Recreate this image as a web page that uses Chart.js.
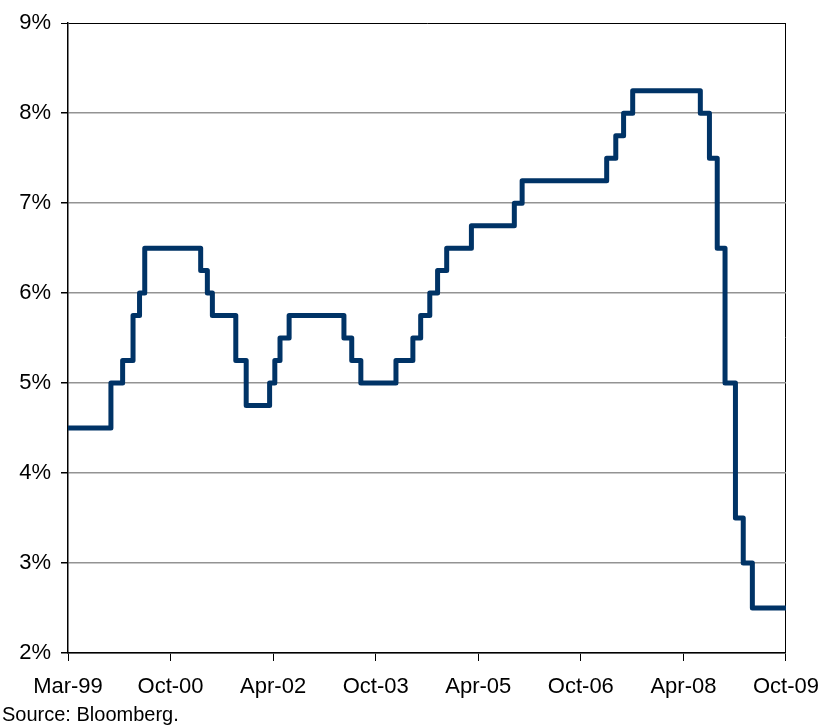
<!DOCTYPE html>
<html>
<head>
<meta charset="utf-8">
<script src="https://cdn.jsdelivr.net/npm/chart.js@4.4.1/dist/chart.umd.min.js"></script>
<style>
  body { margin: 0; background: #fff; }
  #wrap { position: relative; width: 832px; height: 725px; }
  #source {
    position: absolute; left: 2px; top: 704px;
    font: 20px "Liberation Sans", Arial, sans-serif; line-height: 20px; color: #000;
  }
</style>
</head>
<body>
<div id="wrap">
  <canvas id="rateChart" width="832" height="725"></canvas>
  <div id="source">Source: Bloomberg.</div>
</div>
<script>
// Policy rate: date of each change and the new rate (%)
const changeDates = [
  '1999-03-31', '1999-11-17', '2000-01-19', '2000-03-15', '2000-04-19', '2000-05-17',
  '2001-03-14', '2001-04-19', '2001-05-16', '2001-09-19', '2001-11-14',
  '2002-03-20', '2002-04-17', '2002-05-15', '2002-07-03',
  '2003-04-24', '2003-06-05', '2003-07-24',
  '2004-01-29', '2004-04-29', '2004-06-10', '2004-07-29', '2004-09-09', '2004-10-28',
  '2005-03-10', '2005-10-27', '2005-12-08',
  '2007-03-08', '2007-04-26', '2007-06-07', '2007-07-26',
  '2008-07-24', '2008-09-11', '2008-10-23', '2008-12-04',
  '2009-01-29', '2009-03-12', '2009-04-30', '2009-10-29'
];
const rates = [
  4.50, 5.00, 5.25, 5.75, 6.00, 6.50,
  6.25, 6.00, 5.75, 5.25, 4.75,
  5.00, 5.25, 5.50, 5.75,
  5.50, 5.25, 5.00,
  5.25, 5.50, 5.75, 6.00, 6.25, 6.50,
  6.75, 7.00, 7.25,
  7.50, 7.75, 8.00, 8.25,
  8.00, 7.50, 6.50, 5.00,
  3.50, 3.00, 2.50, 2.50
];
const tickLabels = ['Mar-99', 'Oct-00', 'Apr-02', 'Oct-03', 'Apr-05', 'Oct-06', 'Apr-08', 'Oct-09'];
const axisStart = '1999-03-31';
const tickStepDays = 552;

const dayMs = 24 * 3600 * 1000;
const toDays = d => Math.round((Date.parse(d) - Date.parse(axisStart)) / dayMs);

const points = changeDates.map((d, i) => ({ x: toDays(d), y: rates[i] }));
const tickValues = tickLabels.map((_, i) => i * tickStepDays);
const xMax = tickValues[tickValues.length - 1];

const font = { family: '"Liberation Sans", Arial, sans-serif', size: 22 };

new Chart(document.getElementById('rateChart').getContext('2d'), {
  type: 'line',
  data: {
    datasets: [{
      data: points,
      stepped: true,
      borderColor: '#003366',
      borderWidth: 5,
      borderJoinStyle: 'round',
      borderCapStyle: 'round',
      pointRadius: 0,
      fill: false
    }]
  },
  options: {
    responsive: false,
    animation: false,
    layout: { padding: { top: 18, right: 46, left: 0, bottom: 0 } },
    plugins: { legend: { display: false }, tooltip: { enabled: false } },
    scales: {
      x: {
        type: 'linear',
        min: 0,
        max: xMax,
        afterBuildTicks: scale => { scale.ticks = tickValues.map(v => ({ value: v })); },
        afterFit: scale => { scale.height = 72; },
        ticks: {
          color: '#000',
          font: font,
          padding: 13,
          maxRotation: 0,
          autoSkip: false,
          callback: (v, i) => tickLabels[i]
        },
        grid: {
          color: ctx => (ctx.tick && ctx.tick.value === xMax) ? '#000' : 'rgba(0,0,0,0)',
          tickColor: '#000',
          tickLength: 8,
          lineWidth: 1
        },
        border: { color: '#000', width: 1.5 }
      },
      y: {
        min: 2,
        max: 9,
        afterFit: scale => { scale.width = 68; },
        ticks: {
          stepSize: 1,
          color: '#000',
          font: font,
          padding: 10,
          callback: v => v + '%'
        },
        grid: {
          color: ctx => (ctx.tick && ctx.tick.value === 9) ? '#000' : '#939393',
          tickColor: '#000',
          tickLength: 7,
          lineWidth: ctx => (ctx.tick && ctx.tick.value === 9) ? 1 : 1.5
        },
        border: { color: '#000', width: 1.5 }
      }
    }
  }
});
</script>
</body>
</html>
